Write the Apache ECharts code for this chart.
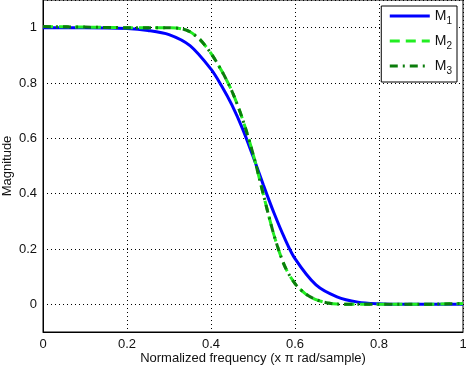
<!DOCTYPE html>
<html>
<head>
<meta charset="utf-8">
<script src="https://cdn.jsdelivr.net/npm/echarts@6/dist/echarts.min.js"></script>
<style>
  html, body { margin: 0; padding: 0; background: #fff; }
  #chart { width: 466px; height: 367px; }
</style>
</head>
<body>
<div id="chart"></div>
<script>
// normalized frequency samples (x pi rad/sample)
const freqM1 = [0, 0.1, 0.2, 0.25, 0.3, 0.35, 0.4, 0.425, 0.45, 0.475, 0.5, 0.525, 0.55, 0.575, 0.6, 0.65, 0.7, 0.75, 0.8, 0.85, 0.9, 1]
const magM1 = [1, 1, 0.997, 0.99, 0.975, 0.935, 0.85, 0.79, 0.72, 0.635, 0.535, 0.43, 0.33, 0.24, 0.165, 0.07, 0.027, 0.008, 0.002, 0, 0, 0]

const freqM2 = [0, 0.1, 0.2, 0.3, 0.33, 0.35, 0.375, 0.4, 0.425, 0.45, 0.475, 0.5, 0.525, 0.55, 0.575, 0.6, 0.625, 0.65, 0.675, 0.7, 0.75, 0.8, 0.9, 1]
const magM2 = [1.004, 1.002, 1, 1, 0.996, 0.985, 0.955, 0.907, 0.845, 0.77, 0.67, 0.545, 0.395, 0.25, 0.14, 0.075, 0.038, 0.017, 0.006, 0.001, 0, 0, 0, 0.003]

const freqM3 = freqM2
const magM3 = [1.004, 1.002, 1, 1, 0.996, 0.985, 0.955, 0.907, 0.845, 0.77, 0.67, 0.545, 0.395, 0.25, 0.14, 0.075, 0.038, 0.017, 0.006, 0.001, 0, 0, 0, 0.003]

const xTicks = [0, 0.2, 0.4, 0.6, 0.8, 1]

const zip = (xs, ys) => xs.map((x, i) => [x, ys[i]])

const font = 'Liberation Sans, Arial, sans-serif'
const chart = echarts.init(document.getElementById('chart'))

chart.setOption({
  animation: false,
  textStyle: { fontFamily: font },
  grid: {
    left: 43,
    right: 3,
    top: 0,
    bottom: 35,
    containLabel: false,
    outerBoundsMode: 'none',
    show: true,
    borderColor: '#000',
    borderWidth: 1
  },
  legend: {
    orient: 'vertical',
    right: 9,
    top: 6,
    padding: [3, 5, 6, 7],
    backgroundColor: '#fff',
    borderColor: '#000',
    borderWidth: 1,
    borderRadius: 0,
    itemWidth: 40,
    itemHeight: 14,
    itemGap: 8,
    selectedMode: false,
    itemStyle: { color: 'transparent', borderWidth: 0, opacity: 0 },
    lineStyle: { width: 3 },
    formatter: (name) => '{a|M}{b|' + name.slice(1) + '}',
    textStyle: {
      color: '#111',
      rich: {
        a: { fontSize: 14, fontFamily: font, color: '#111' },
        b: { fontSize: 10, fontFamily: font, color: '#111', padding: [10, 0, 0, 0] }
      }
    },
    data: ['M1', 'M2', 'M3']
  },
  xAxis: {
    type: 'value',
    min: 0,
    max: 1,
    interval: 0.2,
    name: 'Normalized frequency (x \u03c0 rad/sample)',
    nameLocation: 'middle',
    nameGap: 20,
    nameMoveOverlap: false,
    nameTextStyle: { color: '#111', fontSize: 13 },
    axisLine: { onZero: false, lineStyle: { color: '#000', width: 1 } },
    axisTick: { show: false },
    axisLabel: {
      color: '#111',
      fontSize: 13,
      margin: 6,
      formatter: (v) => (xTicks.includes(+v.toFixed(1)) ? String(+v.toFixed(1)) : '')
    },
    splitLine: { show: true, lineStyle: { color: '#000', type: [1, 3], width: 1 } }
  },
  yAxis: {
    type: 'value',
    min: -0.1,
    max: 1.1,
    splitNumber: 6,
    name: 'Magnitude',
    nameLocation: 'middle',
    nameGap: 29,
    nameMoveOverlap: false,
    nameRotate: 90,
    nameTextStyle: { color: '#111', fontSize: 13 },
    axisLine: { onZero: false, lineStyle: { color: '#000', width: 1 } },
    axisTick: { show: false },
    axisLabel: {
      color: '#111',
      fontSize: 13,
      margin: 6,
      showMinLabel: false,
      showMaxLabel: false,
      formatter: (v) => String(+v.toFixed(1))
    },
    splitLine: { show: true, lineStyle: { color: '#000', type: [1, 3], width: 1 } }
  },
  series: [
    {
      name: 'M1',
      type: 'line',
      smooth: 0.3,
      symbol: 'none',
      data: zip(freqM1, magM1),
      lineStyle: { color: '#0000ff', width: 3 },
      itemStyle: { color: '#0000ff' }
    },
    {
      name: 'M2',
      type: 'line',
      smooth: 0.3,
      symbol: 'none',
      data: zip(freqM2, magM2),
      lineStyle: { color: '#22ee22', width: 3, type: [10, 6] },
      itemStyle: { color: '#22ee22' }
    },
    {
      name: 'M3',
      type: 'line',
      smooth: 0.3,
      symbol: 'none',
      data: zip(freqM3, magM3),
      lineStyle: { color: '#0b7d0b', width: 3, type: [8, 5, 2, 5] },
      itemStyle: { color: '#0b7d0b' }
    }
  ]
})
</script>
</body>
</html>
